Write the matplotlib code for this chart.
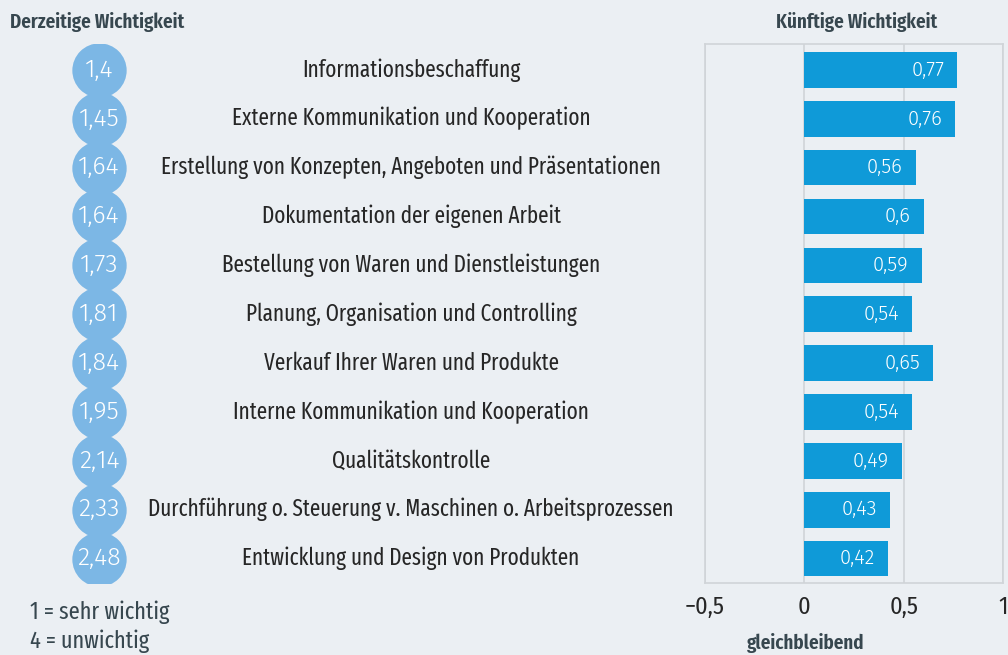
import matplotlib
matplotlib.use("Agg")
import matplotlib.pyplot as plt

# Daten
kategorien = [
    "Informationsbeschaffung",
    "Externe Kommunikation und Kooperation",
    "Erstellung von Konzepten, Angeboten und Präsentationen",
    "Dokumentation der eigenen Arbeit",
    "Bestellung von Waren und Dienstleistungen",
    "Planung, Organisation und Controlling",
    "Verkauf Ihrer Waren und Produkte",
    "Interne Kommunikation und Kooperation",
    "Qualitätskontrolle",
    "Durchführung o. Steuerung v. Maschinen o. Arbeitsprozessen",
    "Entwicklung und Design von Produkten",
]
derzeitig = [1.4, 1.45, 1.64, 1.64, 1.73, 1.81, 1.84, 1.95, 2.14, 2.33, 2.48]
kuenftig = [0.77, 0.76, 0.56, 0.6, 0.59, 0.54, 0.65, 0.54, 0.49, 0.43, 0.42]
x_ticks = [-0.5, 0, 0.5, 1]

schmal = ["Fira Sans Extra Condensed", "Fira Sans Condensed", "DejaVu Sans"]
zahlen = ["Fira Sans", "Fira Sans Condensed", "DejaVu Sans"]
ticks_font = ["Fira Sans Condensed", "DejaVu Sans"]
plt.rcParams["font.family"] = schmal

hintergrund = "#ebeff3"
kreis_farbe = "#7cb7e5"
balken_farbe = "#0f9ad8"
titel_farbe = "#37474f"
text_farbe = "#262626"
rahmen_farbe = "#d0d4d8"

def komma(v):
    return ("%g" % v).replace(".", ",").replace("-", "\u2212")

fig = plt.figure(figsize=(10.08, 6.55), dpi=100, facecolor=hintergrund)
W, H = 1008, 655
unten = (H - 583) / H
hoehe = (583 - 44) / H
y = list(range(len(kategorien)))

# linke Seite: Kreise + Beschriftungen
ax_l = fig.add_axes([0, unten, 700 / W, hoehe])
ax_l.set_xlim(0, 700)
ax_l.set_ylim(10.5, -0.53)
ax_l.axis("off")
ax_l.scatter([99] * len(y), y, s=1530, color=kreis_farbe, linewidths=0, zorder=2)
for i, (wert, kat) in enumerate(zip(derzeitig, kategorien)):
    ax_l.text(99, i, komma(wert), color="white", fontsize=18, family=zahlen, fontweight=300,
              ha="center", va="center", zorder=3)
    ax_l.text(411, i, kat, color=text_farbe, fontsize=16.6, ha="center", va="center")

# rechte Seite: Balken
ax = fig.add_axes([705 / W, unten, (1003 - 705) / W, hoehe])
ax.set_facecolor(hintergrund)
ax.barh(y, kuenftig, height=0.73, color=balken_farbe, zorder=2)
for i, wert in enumerate(kuenftig):
    ax.text(wert - 0.065, i, komma(wert), color="white", fontsize=14.5, family=zahlen, fontweight=300,
            ha="right", va="center", zorder=3)
ax.set_xlim(-0.5, 1)
ax.set_ylim(10.5, -0.53)
ax.set_yticks([])
ax.set_xticks(x_ticks)
ax.set_xticklabels([komma(t) for t in x_ticks], fontsize=17.5, color=text_farbe, family=ticks_font)
ax.tick_params(axis="x", length=0, pad=9)
ax.grid(axis="x", color=rahmen_farbe, linewidth=1.2, zorder=0)
for s in ax.spines.values():
    s.set_color(rahmen_farbe)
    s.set_linewidth(1.2)

fig.text(10 / W, 1 - 22 / H, "Derzeitige Wichtigkeit", fontsize=14.9, fontweight=600,
         color=titel_farbe, ha="left", va="center")
fig.text(857 / W, 1 - 22 / H, "Künftige Wichtigkeit", fontsize=14.9, fontweight=600,
         color=titel_farbe, ha="center", va="center")
fig.text(806 / W, 1 - 643 / H, "gleichbleibend", fontsize=14.9, fontweight=600,
         color=titel_farbe, ha="center", va="center")
fig.text(30 / W, 1 - 612 / H, "1 = sehr wichtig", fontsize=17.5, color=titel_farbe, ha="left", va="center")
fig.text(30 / W, 1 - 641 / H, "4 = unwichtig", fontsize=17.5, color=titel_farbe, ha="left", va="center")

fig.savefig("out.png", dpi=100, facecolor=hintergrund)
